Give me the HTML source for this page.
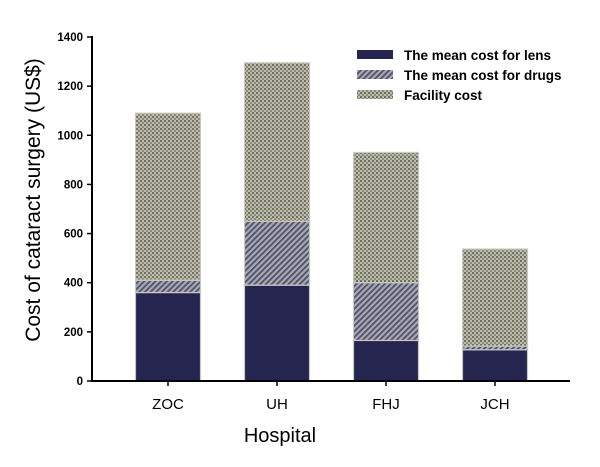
<!DOCTYPE html>
<html><head><meta charset="utf-8"><style>
body{margin:0;background:#fff}
svg{display:block}
text{font-family:"Liberation Sans",Arial,sans-serif}
</style></head><body>
<svg id="chart" width="600" height="467">
<defs>
<pattern id="dots" width="4" height="4" patternUnits="userSpaceOnUse">
<rect width="4" height="4" fill="#bcbcac"/>
<rect x="0" y="0" width="2" height="2" fill="#707060"/>
<rect x="2" y="2" width="2" height="2" fill="#8a8a78"/>
</pattern>
<pattern id="hatch" width="4" height="4" patternUnits="userSpaceOnUse" patternTransform="rotate(45)">
<rect width="4" height="4" fill="#a8a8b4"/>
<rect width="1.8" height="4" fill="#50506a"/>
</pattern>
</defs>
<g id="bars"></g>
<g id="axes"></g>
<text transform="translate(40,200) rotate(-90)" text-anchor="middle" font-size="21" fill="#000">Cost of cataract surgery (US$)</text>
<text x="280" y="442" text-anchor="middle" font-size="20" fill="#000">Hospital</text>
<g>
<rect x="357" y="50" width="36" height="9" fill="#252550"/>
<text x="404" y="60" font-size="13.5" font-weight="bold">The mean cost for lens</text>
<rect x="357" y="70" width="36" height="9" fill="url(#hatch)"/>
<text x="404" y="80" font-size="13.5" font-weight="bold">The mean cost for drugs</text>
<rect x="357" y="90" width="36" height="9" fill="url(#dots)"/>
<text x="404" y="100" font-size="13.5" font-weight="bold">Facility cost</text>
</g>
</svg>
<script>
const categories=["ZOC","UH","FHJ","JCH"];
const lensCost=[360,390,165,127];
const drugCost=[50,260,235,15];
const facilityCost=[680,645,530,395];
const yTicks=[0,200,400,600,800,1000,1200,1400];
const NS="http://www.w3.org/2000/svg";
const x0=92,y0=381,yTop=37,yMax=1400;
const y=v=>y0-(v/yMax)*(y0-yTop);
const step=109,first=168,bw=65;
const xc=i=>first+i*step;
function mk(tag,attrs,parent){const e=document.createElementNS(NS,tag);for(const k in attrs)e.setAttribute(k,attrs[k]);parent.appendChild(e);return e;}
const bars=document.getElementById('bars');
const series=[[lensCost,"#252550","lens"],[drugCost,"url(#hatch)","drugs"],[facilityCost,"url(#dots)","facility"]];
categories.forEach((c,i)=>{
 let base=0;
 series.forEach(([arr,fill,nm])=>{
  const v=arr[i];
  const r=mk('rect',{x:xc(i)-bw/2,y:y(base+v),width:bw,height:y(base)-y(base+v),fill:fill,stroke:"#c8c8c0","stroke-width":1.2},bars);
  
  
  base+=v;
 });
});
const ax=document.getElementById('axes');
const yl=mk('line',{x1:x0,y1:yTop-1,x2:x0,y2:y0+1,stroke:"#000","stroke-width":2},ax);


const xl=mk('line',{x1:x0-1,y1:y0,x2:570,y2:y0,stroke:"#000","stroke-width":2},ax);


yTicks.forEach(t=>{
 mk('line',{x1:x0-5,y1:y(t),x2:x0,y2:y(t),stroke:"#000","stroke-width":1.5},ax);
 const tx=mk('text',{x:83,y:y(t)+4,"text-anchor":"end","font-size":"11.5","font-weight":"bold"},ax);
 tx.textContent=t;
 
 
});
categories.forEach((c,i)=>{
 mk('line',{x1:xc(i),y1:y0,x2:xc(i),y2:y0+5,stroke:"#000","stroke-width":1.5},ax);
 const tx=mk('text',{x:xc(i),y:409,"text-anchor":"middle","font-size":"15"},ax);
 tx.textContent=c;
 
 
});
</script>
</body></html>
